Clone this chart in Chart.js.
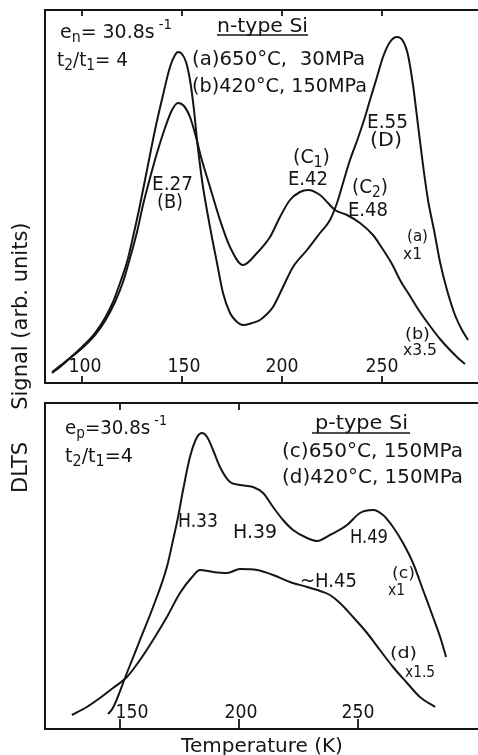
<!DOCTYPE html>
<html>
<head>
<meta charset="utf-8">
<script src="https://cdn.jsdelivr.net/npm/chart.js@4.4.1/dist/chart.umd.min.js"></script>
<style>
html,body{margin:0;padding:0;background:#fff;width:478px;height:755px;overflow:hidden;position:relative;}
canvas{position:absolute;left:0;}
#c1{top:0;}
#c2{top:395px;}
#ylab{position:absolute;left:8px;top:493px;width:300px;height:24px;line-height:24px;
  transform-origin:0 0;transform:rotate(-90deg);font-family:"DejaVu Sans",sans-serif;font-size:21px;color:#151515;white-space:pre;}
#ylab span.s{margin-left:32px;}
</style>
</head>
<body>
<canvas id="c1" width="478" height="395"></canvas>
<canvas id="c2" width="478" height="360"></canvas>
<div id="ylab"><span>DLTS</span><span class="s">Signal (arb. units)</span></div>
<script>
// ---------- data (Temperature in K, DLTS signal in arbitrary units) ----------
const tempA = [85,89,94,100,106.5,111.5,115.5,119,122.5,125.5,129,132.5,136.5,140.5,144,146.5,148,150,152,154,156,157.5,159,160.5,164,167.5,170.5,174,177,180.5,185,189,192.5,195.5,200.5,205.5,212.5,219,224,227.5,230.5,234,238,241.5,244,247.5,250.5,254,257.5,260.5,263,265.5,268,270.5,273,276,279,282.5,286.5,290,293];
const sigA  = [10,16,25,36,50,65,81,100,121,146,178,213,253,288,316,328,331,329,321,303,273,243,218,196,156,120,90,70,62,58,60,63,69,76,96,116,133,150,163,180,200,223,245,266,283,306,326,341,346,342,328,298,258,218,183,153,121,93,68,53,43];

const tempB = [85,91.5,99,106.5,111.5,116.5,120.5,124,127.5,130.5,134,137.5,141.5,145,148,151,154,157,159.5,164,169,174,180.5,187.5,194,199,204,209,213,219,223,226.5,232.5,239,245.5,249,255,259,264,269,274,279,284,288,291.5];
const sigB  = [11,21,33,48,62,81,101,125,151,178,205,230,255,273,280,277,266,246,226,196,163,136,118,130,146,166,183,191,193,188,180,173,168,160,148,138,119,103,87,71,57,44,33,25,19];

const tempC = [145,147,152.9,158.4,163.9,169.7,172.3,174.4,176.5,179.4,182.4,184.5,186.6,189.1,192,196.2,200.4,205.9,210.1,214.3,218.5,222.7,228.6,232.8,238.2,245.4,250.8,256.3,260.5,264.7,268.9,273.1,277.3,281.5,284.5,287];
const sigC  = [15,21,56,89,122,162,189,212,239,272,292,296,292,279,262,247,244,242,236,222,209,199,191,188,194,204,216,219,214,202,186,166,139,112,92,72];

const tempD = [129.8,136.1,141.6,147.1,152.9,158.4,163.9,169.7,175.2,180.3,183.6,189.1,195,200.4,207.6,214.3,221.4,228.6,235.3,238.2,242.4,247.9,253.8,259.2,264.7,270.6,276,282.4];
const sigD  = [14,22,31,41,52,69,89,112,136,152,159,157,156,160,159,154,147,142,137,134,126,112,96,79,62,46,32,22];

const topTicks = [100,150,200,250];
const botTicks = [150,200,250];
const botTopTicks = [150,200];

// ---------- drawing helpers ----------
const INK = '#151515';
const FONT = '"DejaVu Sans", sans-serif';
const pts = (xs, ys) => xs.map((x, i) => ({x, y: ys[i]}));

function drawRich(ctx, t, oy) {
  let total = 0;
  t.segs.forEach(s => { ctx.font = s[1] + 'px ' + FONT; total += ctx.measureText(s[0]).width; });
  const sc = t.w ? t.w / total : 1;
  ctx.save();
  ctx.translate(t.x, t.y - oy);
  ctx.scale(sc, 1);
  let cx = 0;
  t.segs.forEach(s => {
    ctx.font = s[1] + 'px ' + FONT;
    ctx.fillText(s[0], cx, s[2] || 0);
    cx += ctx.measureText(s[0]).width;
  });
  ctx.restore();
  if (t.ul) {
    ctx.beginPath(); ctx.lineWidth = 1.6;
    ctx.moveTo(t.ul[0], t.ul[2] - oy); ctx.lineTo(t.ul[1], t.ul[2] - oy); ctx.stroke();
  }
}

const deco = {
  id: 'deco',
  afterDraw(chart, args, o) {
    const ctx = chart.ctx, a = chart.chartArea, xs = chart.scales.x, oy = o.offsetY;
    const W = chart.width;
    ctx.save();
    ctx.strokeStyle = INK; ctx.fillStyle = INK;
    ctx.lineWidth = 2;
    ctx.beginPath();
    ctx.moveTo(W + 2, a.top); ctx.lineTo(a.left, a.top); ctx.lineTo(a.left, a.bottom); ctx.lineTo(W + 2, a.bottom);
    ctx.stroke();
    ctx.lineWidth = 1.8;
    ctx.beginPath();
    o.topTicks.forEach(v => { const p = xs.getPixelForValue(v); ctx.moveTo(p, a.top); ctx.lineTo(p, a.top + o.topLen); });
    o.botTicks.forEach(v => { const p = xs.getPixelForValue(v); ctx.moveTo(p, a.bottom); ctx.lineTo(p, a.bottom - o.botLen); });
    ctx.stroke();
    ctx.textBaseline = 'alphabetic';
    o.botTicks.forEach((v, i) => {
      const p = xs.getPixelForValue(v) + (o.labelShift[i] || 0);
      drawRich(ctx, {x: p - 16.5, y: o.labelBase, w: 33, segs: [[String(v), 20]]}, oy);
    });
    ctx.textAlign = 'left';
    o.texts.forEach(t => drawRich(ctx, t, oy));
    if (o.xTitle) {
      ctx.textAlign = 'center'; ctx.font = '20px ' + FONT;
      ctx.fillText(o.xTitle, o.xTitleX, o.xTitleY - oy);
    }
    ctx.restore();
  }
};

const lineDS = (d) => ({data: d, borderColor: INK, borderWidth: 2, pointRadius: 0, fill: false, cubicInterpolationMode: 'monotone'});

const topTexts = [
  {x:60, y:38, w:112, segs:[['e',20],['n',15,4],['= 30.8s',20],[' -1',14,-9]]},
  {x:57, y:66, w:71, segs:[['t',20],['2',15,4],['/',20],['t',20],['1',15,4],['= 4',20]]},
  {x:217, y:32, w:91, segs:[['n-type Si',20]], ul:[217,308,35]},
  {x:192, y:65, w:173, segs:[['(a)650°C,  30MPa',20]]},
  {x:192, y:92, w:175, segs:[['(b)420°C, 150MPa',20]]},
  {x:367, y:128, w:41, segs:[['E.55',20]]},
  {x:370, y:146, w:32, segs:[['(D)',20]]},
  {x:293, y:163, w:37, segs:[['(C',20],['1',15,4],[')',20]]},
  {x:288, y:185, w:40, segs:[['E.42',20]]},
  {x:352, y:193, w:36, segs:[['(C',20],['2',15,4],[')',20]]},
  {x:348, y:216, w:40, segs:[['E.48',20]]},
  {x:152, y:190, w:41, segs:[['E.27',20]]},
  {x:157, y:208, w:26, segs:[['(B)',20]]},
  {x:407, y:241, w:21, segs:[['(a)',16]]},
  {x:403, y:259, w:19, segs:[['x1',16]]},
  {x:405, y:339, w:25, segs:[['(b)',16]]},
  {x:403, y:355, w:34, segs:[['x3.5',15]]}
];

const botTexts = [
  {x:65, y:434, w:102, segs:[['e',20],['p',15,4],['=30.8s',20],[' -1',14,-9]]},
  {x:65, y:462, w:68, segs:[['t',20],['2',15,4],['/',20],['t',20],['1',15,4],['=4',20]]},
  {x:315, y:429, w:93, segs:[['p-type Si',20]], ul:[312,410,433]},
  {x:282, y:457, w:181, segs:[['(c)650°C, 150MPa',20]]},
  {x:282, y:483, w:181, segs:[['(d)420°C, 150MPa',20]]},
  {x:178, y:527, w:40, segs:[['H.33',20]]},
  {x:233, y:538, w:44, segs:[['H.39',20]]},
  {x:350, y:543, w:38, segs:[['H.49',20]]},
  {x:300, y:587, w:57, segs:[['~H.45',20]]},
  {x:392, y:578, w:23, segs:[['(c)',16]]},
  {x:388, y:595, w:17, segs:[['x1',16]]},
  {x:390, y:658, w:27, segs:[['(d)',16]]},
  {x:405, y:677, w:30, segs:[['x1.5',15]]}
];

const common = {
  responsive: false, animation: false, events: [],
  plugins: {legend: {display: false}, tooltip: {enabled: false}}
};

new Chart(document.getElementById('c1'), {
  type: 'line',
  data: {datasets: [lineDS(pts(tempA, sigA)), lineDS(pts(tempB, sigB))]},
  options: Object.assign({}, common, {
    layout: {padding: {left: 45, top: 10, right: 0, bottom: 12}},
    scales: {
      x: {type: 'linear', min: 81.5, max: 298, display: false},
      y: {min: 0, max: 373, display: false}
    },
    plugins: Object.assign({}, common.plugins, {
      deco: {offsetY: 0, topTicks: topTicks, botTicks: topTicks, topLen: 6, botLen: 7,
             labelBase: 372, labelShift: [3, 2, 0, 0], texts: topTexts}
    })
  }),
  plugins: [deco]
});

new Chart(document.getElementById('c2'), {
  type: 'line',
  data: {datasets: [lineDS(pts(tempC, sigC)), lineDS(pts(tempD, sigD))]},
  options: Object.assign({}, common, {
    layout: {padding: {left: 45, top: 8, right: 0, bottom: 26}},
    scales: {
      x: {type: 'linear', min: 118.5, max: 300.4, display: false},
      y: {min: 0, max: 326, display: false}
    },
    plugins: Object.assign({}, common.plugins, {
      deco: {offsetY: 395, topTicks: botTopTicks, botTicks: botTicks, topLen: 7, botLen: 10,
             labelBase: 718, labelShift: [12, 2, 0], texts: botTexts,
             xTitle: 'Temperature (K)', xTitleX: 262, xTitleY: 752}
    })
  }),
  plugins: [deco]
});
</script>
</body>
</html>
